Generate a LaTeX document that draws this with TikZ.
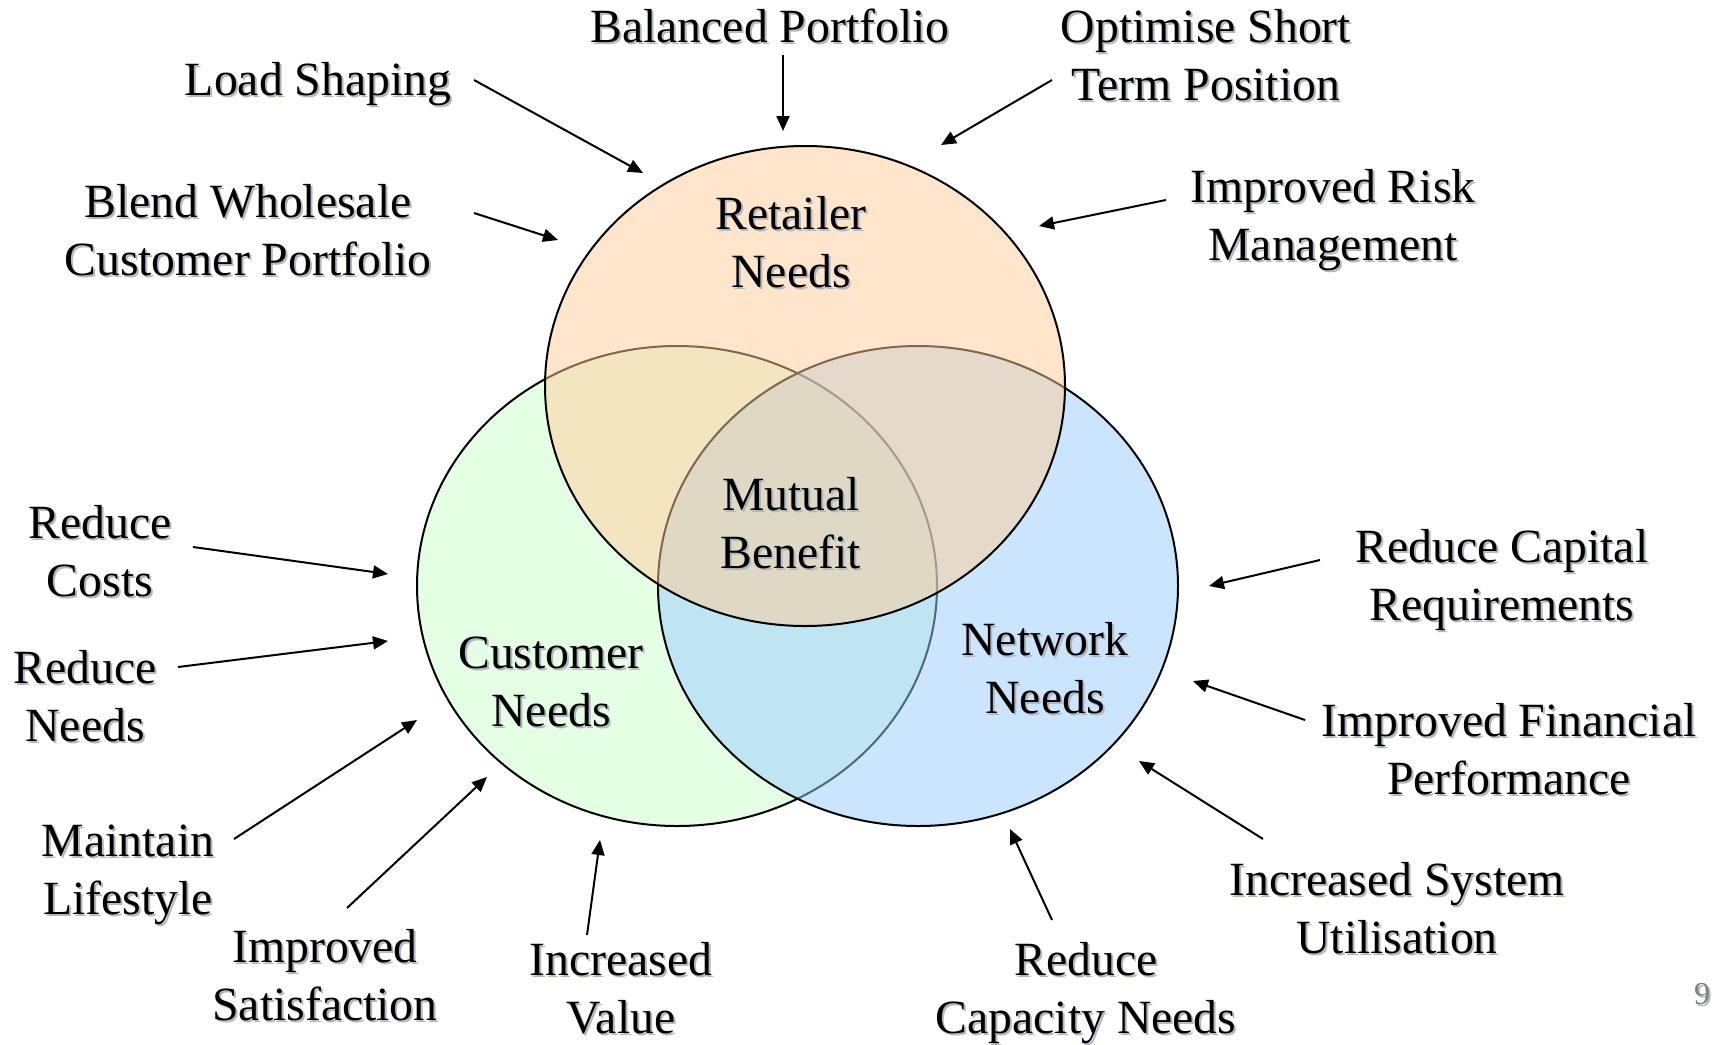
\documentclass[tikz,border=0pt]{standalone}
\usepackage{fontspec}
\setmainfont{Liberation Serif}
\usetikzlibrary{arrows.meta}
\definecolor{retc}{HTML}{FFCC99}
\definecolor{cusc}{HTML}{CCFFCC}
\definecolor{netc}{HTML}{99CCFF}
\definecolor{shadowc}{RGB}{178,183,192}
\newcommand\sh[1]{\leavevmode\rlap{\kern1pt\raisebox{-1pt}{\textcolor{shadowc}{#1}}}#1}
\begin{document}
\begin{tikzpicture}[x=0.5pt,y=-0.5pt,
  lbl/.style={align=center,font=\fontsize{23.85}{29}\selectfont,inner sep=0pt},
  venn/.style={line width=1pt,fill opacity=0.5,draw opacity=1},
  arr/.style={line width=1pt,-{Triangle[length=7.5pt,width=6.5pt]}}]
\useasboundingbox (0,0) rectangle (1715,1045);
% circles
\draw[venn,fill=cusc] (677,586) ellipse [x radius=260, y radius=240];
\draw[venn,fill=netc] (918,586) ellipse [x radius=260, y radius=240];
\draw[venn,fill=retc] (805,386) ellipse [x radius=260, y radius=240];
% inner labels
\node[lbl] (ret) at (791,243) {\sh{Retailer}\\\sh{Needs}};
\node[lbl] (mut) at (791,524) {\sh{Mutual}\\\sh{Benefit}};
\node[lbl] (cus) at (551,683) {\sh{Customer}\\\sh{Needs}};
\node[lbl] (net) at (1045,669) {\sh{Network}\\\sh{Needs}};
% outer labels
\node[lbl] (bal) at (770,27) {\sh{Balanced Portfolio}};
\node[lbl] (load) at (318,85) {\sh{Load Shaping}};
\node[lbl] (opt) at (1206,56) {\sh{Optimise Short}\\\sh{Term Position}};
\node[lbl] (risk) at (1333,221) {\sh{Improved Risk}\\\sh{Management}};
\node[lbl] (blend) at (248,231) {\sh{Blend Wholesale}\\\sh{Customer Portfolio}};
\node[lbl] (rcost) at (100,552) {\sh{Reduce}\\\sh{Costs}};
\node[lbl] (rneed) at (85,697) {\sh{Reduce}\\\sh{Needs}};
\node[lbl] (maint) at (128,876) {\sh{Maintain}\\\sh{Lifestyle}};
\node[lbl] (isat) at (325,976) {\sh{Improved}\\\sh{Satisfaction}};
\node[lbl] (ival) at (621,989) {\sh{Increased}\\\sh{Value}};
\node[lbl] (rcap) at (1086,994) {\sh{Reduce}\\\sh{Capacity Needs}};
\node[lbl] (isys) at (1397,909) {\sh{Increased System}\\\sh{Utilisation}};
\node[lbl] (ifin) at (1509,750) {\sh{Improved Financial}\\\sh{Performance}};
\node[lbl] (rcapr) at (1502,581) {\sh{Reduce Capital}\\\sh{Requirements}};
\node[font=\fontsize{16}{19}\selectfont,text=gray,inner sep=0pt] (pg) at (1702,995) {\sh{9}};
% arrow coordinates
\coordinate (bal-s) at (783,55);   \coordinate (bal-e) at (783,131);
\coordinate (load-s) at (474,80);  \coordinate (load-e) at (643,173);
\coordinate (opt-s) at (1052,80);  \coordinate (opt-e) at (941,145);
\coordinate (risk-s) at (1166,200); \coordinate (risk-e) at (1039,226);
\coordinate (blend-s) at (474,213); \coordinate (blend-e) at (558,240);
\coordinate (rcost-s) at (193,547); \coordinate (rcost-e) at (388,574);
\coordinate (rneed-s) at (178,667); \coordinate (rneed-e) at (388,641);
\coordinate (maint-s) at (234,839); \coordinate (maint-e) at (417,720);
\coordinate (isat-s) at (347,908); \coordinate (isat-e) at (487,777);
\coordinate (ival-s) at (587,935); \coordinate (ival-e) at (600,840);
\coordinate (rcap-s) at (1052,920); \coordinate (rcap-e) at (1010,829);
\coordinate (isys-s) at (1263,839); \coordinate (isys-e) at (1139,761);
\coordinate (ifin-s) at (1305,720); \coordinate (ifin-e) at (1193,681);
\coordinate (rcapr-s) at (1320,560); \coordinate (rcapr-e) at (1209,586);
\foreach \n in {bal,load,opt,risk,blend,rcost,rneed,maint,isat,ival,rcap,isys,ifin,rcapr}
  \draw[arr] (\n-s) -- (\n-e);
\end{tikzpicture}
\end{document}
